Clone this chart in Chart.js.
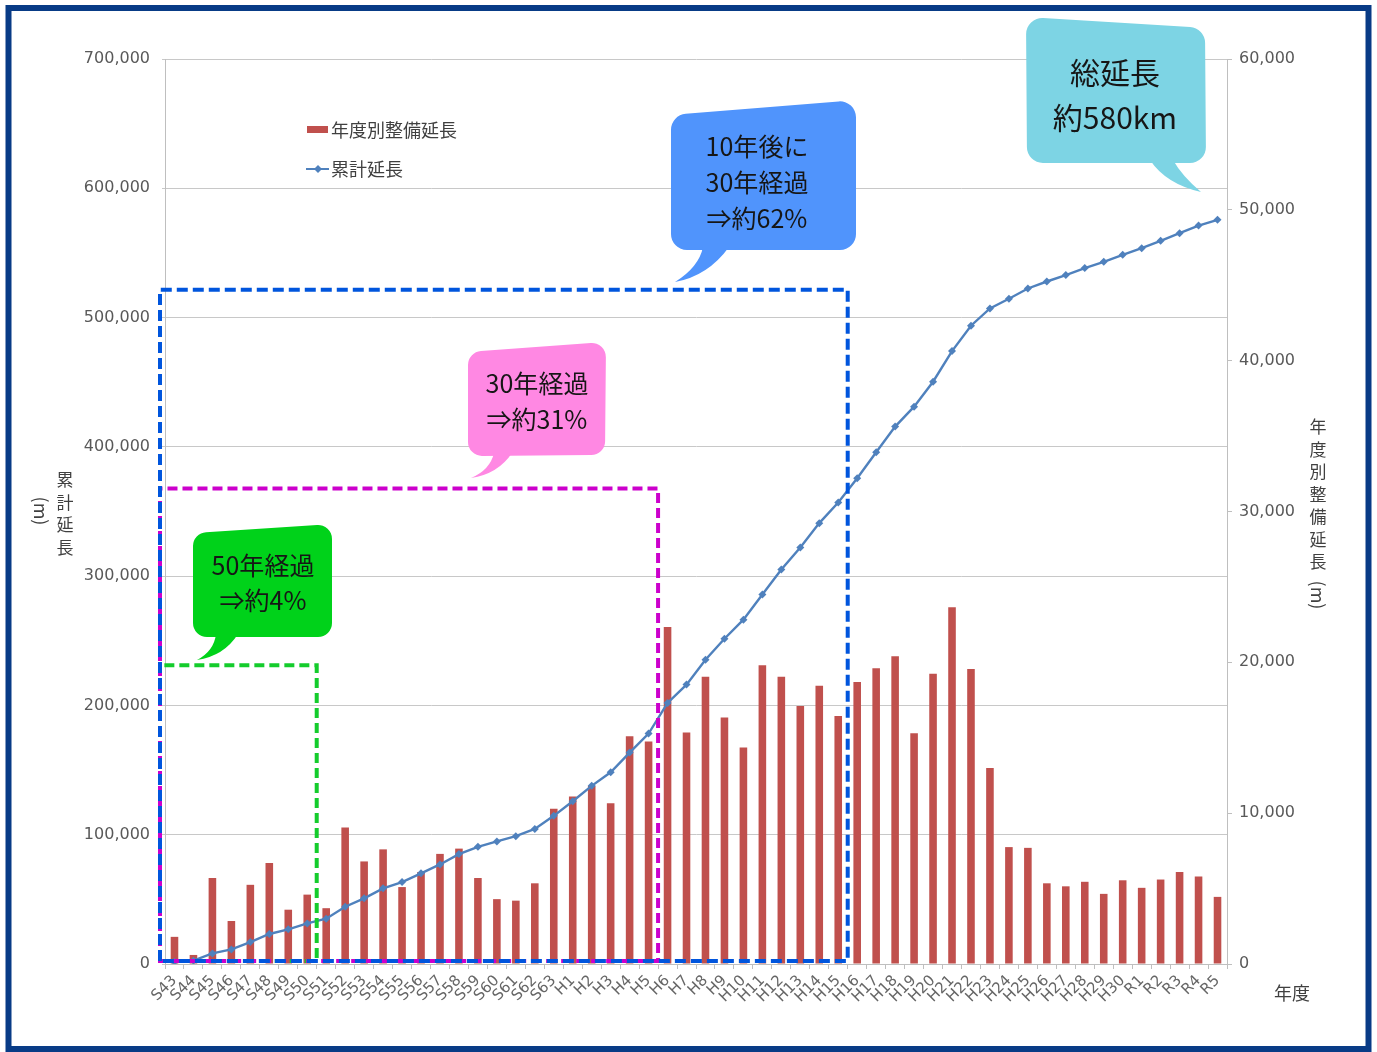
<!DOCTYPE html>
<html lang="ja">
<head>
<meta charset="utf-8">
<title>整備延長の推移</title>
<script src="https://cdn.jsdelivr.net/npm/chart.js@4.4.1/dist/chart.umd.min.js"></script>
<style>
  html, body { margin: 0; padding: 0; background: #fff; }
  #wrap { width: 1377px; height: 1052px; }
</style>
</head>
<body>
<div id="wrap"><canvas id="chart" width="1377" height="1052"></canvas></div>
<script>
// ===== データ =====
const years = [
  "S43","S44","S45","S46","S47","S48","S49","S50","S51","S52","S53","S54","S55","S56","S57","S58","S59","S60","S61","S62","S63",
  "H1","H2","H3","H4","H5","H6","H7","H8","H9","H10","H11","H12","H13","H14","H15","H16","H17","H18","H19","H20",
  "H21","H22","H23","H24","H25","H26","H27","H28","H29","H30",
  "R1","R2","R3","R4","R5"
];

// 年度別整備延長 (m) - 右軸
const annualLength = [
  1800, 600, 5700, 2850, 5250, 6700, 3600, 4600, 3700, 9050, 6800, 7600, 5100, 6100, 7300, 7650, 5700, 4300, 4200, 5350, 10300,
  11100, 11800, 10650, 15100, 14750, 22350, 15350, 19050, 16350, 14350, 19800, 19050, 17100, 18450, 16450, 18700, 19600, 20400, 15300, 19250,
  23650, 19550, 13000, 7750, 7700, 5350, 5150, 5450, 4650, 5550,
  5050, 5600, 6100, 5800, 4450
];

// 累計延長 (m) - 左軸
const cumulativeLength = [
  1800, 2600, 8200, 11300, 17000, 23200, 26800, 31400, 35000, 44300, 50800, 58500, 63400, 70100, 77000, 85000, 90600, 94800, 98900, 104500, 114600,
  125900, 137800, 148300, 163500, 178200, 201900, 216100, 235400, 251600, 266300, 285800, 305200, 322200, 341000, 356900, 375700, 395800, 415700, 431100, 450400,
  474100, 493700, 507100, 514600, 522500, 527900, 532900, 538300, 543100, 548500,
  553700, 559400, 565300, 571200, 575600
];

const leftMax = 700000, leftStep = 100000;
const rightMax = 60000, rightStep = 10000;

// 点線の枠 (最終年度, 上端の累計延長)
const periodBoxes = [
  { lastYear: "S50", top: 231000, color: "#14cc2c", dash: [10, 5] },
  { lastYear: "H5",  top: 367800, color: "#cc00cc", dash: [10, 5] },
  { lastYear: "H15", top: 521500, color: "#0055dd", dash: [11, 5] }
];

// 吹き出し
const bubbles = [
  { fill: "#00d21a", corners: [[193,533],[332,524],[332,637],[193,637]], r: 14,
    tail: [[216,634],[214,651],[197,660],[224,656],[238,634]],
    lines: ["50年経過", "⇒約4%"], size: 25, cx: 263, ys: [565, 600] },
  { fill: "#ff88e3", corners: [[468,352],[606,342],[605,455],[468,456]], r: 14,
    tail: [[494,453],[490,470],[471,478],[498,474],[512,453]],
    lines: ["30年経過", "⇒約31%"], size: 25, cx: 537, ys: [383, 419] },
  { fill: "#5094fc", corners: [[671,115],[856,100],[856,250],[671,250]], r: 16,
    tail: [[703,247],[699,267],[675,282],[708,276],[729,247]],
    lines: ["10年後に", "30年経過", "⇒約62%"], size: 25, cx: 757, ys: [146, 182, 218] },
  { fill: "#7dd4e4", corners: [[1026,17],[1205,28],[1206,163],[1027,163]], r: 16,
    tail: [[1150,160],[1166,184],[1201,192],[1182,176],[1173,160]],
    lines: ["総延長", "約580km"], size: 30, cx: 1115, ys: [73, 118] }
];

const jpFont = '"Noto Sans CJK JP", "Noto Sans", sans-serif';
const barColor = "#c0504d";
const lineColor = "#4f81bd";

// ===== 描画用ヘルパー =====
function roundedPoly(ctx, pts, r) {
  const n = pts.length;
  const mx = (pts[n - 1][0] + pts[0][0]) / 2, my = (pts[n - 1][1] + pts[0][1]) / 2;
  ctx.moveTo(mx, my);
  for (let i = 0; i < n; i++) {
    const a = pts[i], b = pts[(i + 1) % n];
    ctx.arcTo(a[0], a[1], b[0], b[1], r);
  }
  ctx.closePath();
}

function drawBubble(ctx, b) {
  ctx.save();
  ctx.fillStyle = b.fill;
  ctx.beginPath();
  roundedPoly(ctx, b.corners, b.r);
  ctx.fill();
  const t = b.tail;
  ctx.beginPath();
  ctx.moveTo(t[0][0], t[0][1]);
  ctx.quadraticCurveTo(t[1][0], t[1][1], t[2][0], t[2][1]);
  ctx.quadraticCurveTo(t[3][0], t[3][1], t[4][0], t[4][1]);
  ctx.closePath();
  ctx.fill();
  ctx.fillStyle = "#161616";
  ctx.font = b.size + "px " + jpFont;
  ctx.textAlign = "center";
  ctx.textBaseline = "middle";
  b.lines.forEach((s, i) => ctx.fillText(s, b.cx, b.ys[i]));
  ctx.restore();
}

function verticalTitle(ctx, chars, x, y0, gap, unitX, unitY) {
  ctx.save();
  ctx.fillStyle = "#404040";
  ctx.font = "17px " + jpFont;
  ctx.textAlign = "center";
  ctx.textBaseline = "middle";
  chars.split("").forEach((c, i) => ctx.fillText(c, x, y0 + i * gap));
  ctx.translate(unitX, unitY);
  ctx.rotate(Math.PI / 2);
  ctx.font = "18px " + jpFont;
  ctx.fillText("(m)", 0, 0);
  ctx.restore();
}

// ===== 注記プラグイン =====
const annotationPlugin = {
  id: "annotations",
  beforeDraw(chart) {
    const ctx = chart.ctx;
    ctx.save();
    ctx.fillStyle = "#ffffff";
    ctx.fillRect(0, 0, chart.width, chart.height);
    ctx.restore();
  },
  afterDatasetsDraw(chart) {
    const ctx = chart.ctx;
    const xs = chart.scales.x, ys = chart.scales.y;
    const half = (xs.getPixelForValue(1) - xs.getPixelForValue(0)) / 2;
    const left = chart.chartArea.left - 5;
    const bottom = ys.getPixelForValue(0) - 3;

    periodBoxes.forEach(bx => {
      const idx = years.indexOf(bx.lastYear);
      const right = xs.getPixelForValue(idx) + half;
      const top = ys.getPixelForValue(bx.top);
      ctx.save();
      ctx.strokeStyle = bx.color;
      ctx.lineWidth = 4;
      ctx.setLineDash(bx.dash);
      ctx.beginPath();
      ctx.moveTo(left, bottom);
      ctx.lineTo(left, top);
      ctx.lineTo(right, top);
      ctx.lineTo(right, bottom);
      ctx.closePath();
      ctx.stroke();
      ctx.restore();
    });

    bubbles.forEach(b => drawBubble(ctx, b));
  },
  afterDraw(chart) {
    const ctx = chart.ctx;

    // 凡例
    ctx.save();
    ctx.fillStyle = barColor;
    ctx.fillRect(307, 126, 21, 7);
    ctx.strokeStyle = lineColor;
    ctx.lineWidth = 2;
    ctx.beginPath();
    ctx.moveTo(306, 169);
    ctx.lineTo(329, 169);
    ctx.stroke();
    ctx.fillStyle = lineColor;
    ctx.beginPath();
    ctx.moveTo(318, 165); ctx.lineTo(322, 169); ctx.lineTo(318, 173); ctx.lineTo(314, 169);
    ctx.closePath();
    ctx.fill();
    ctx.fillStyle = "#404040";
    ctx.font = "18px " + jpFont;
    ctx.textBaseline = "middle";
    ctx.fillText("年度別整備延長", 331, 130);
    ctx.fillText("累計延長", 331, 169);
    ctx.restore();

    // 軸タイトル
    verticalTitle(ctx, "累計延長", 65, 480, 22.5, 41, 511);
    verticalTitle(ctx, "年度別整備延長", 1318, 427, 22.5, 1318, 595);
    ctx.save();
    ctx.fillStyle = "#404040";
    ctx.font = "18px " + jpFont;
    ctx.textAlign = "center";
    ctx.textBaseline = "middle";
    ctx.fillText("年度", 1292, 993);
    ctx.restore();

    // 外枠
    ctx.save();
    ctx.strokeStyle = "#083b86";
    ctx.lineWidth = 6;
    ctx.strokeRect(8.5, 8, 1360, 1041);
    ctx.restore();
  }
};

// ===== グラフ =====
const tickFont = { family: '"DejaVu Sans", sans-serif', size: 16 };

new Chart(document.getElementById("chart"), {
  type: "bar",
  data: {
    labels: years,
    datasets: [
      {
        type: "line",
        label: "累計延長",
        data: cumulativeLength,
        yAxisID: "y",
        borderColor: lineColor,
        backgroundColor: lineColor,
        borderWidth: 2.4,
        pointStyle: "rectRot",
        pointRadius: 4,
        pointBackgroundColor: lineColor,
        pointBorderWidth: 0,
        tension: 0,
        order: 0
      },
      {
        type: "bar",
        label: "年度別整備延長",
        data: annualLength,
        yAxisID: "y1",
        backgroundColor: barColor,
        barPercentage: 0.4,
        categoryPercentage: 1.0,
        order: 1
      }
    ]
  },
  options: {
    responsive: false,
    animation: false,
    devicePixelRatio: 1,
    layout: { padding: { top: 59, left: 0, right: 0, bottom: 0 } },
    plugins: {
      legend: { display: false },
      title: { display: false },
      tooltip: { enabled: false }
    },
    scales: {
      x: {
        offset: true,
        grid: { display: true, drawOnChartArea: false, offset: true, tickLength: 5, color: "#bfbfbf" },
        border: { color: "#bfbfbf" },
        ticks: { color: "#666", font: { ...tickFont, size: 15 }, autoSkip: false, minRotation: 45, maxRotation: 45, padding: 3 },
        afterFit: s => { s.height = 88; }
      },
      y: {
        position: "left",
        min: 0,
        max: leftMax,
        grid: { color: "#c8c8c8", tickLength: 3 },
        border: { color: "#bfbfbf" },
        ticks: { stepSize: leftStep, color: "#595959", font: tickFont, padding: 12 },
        afterFit: s => { s.width = 165; }
      },
      y1: {
        position: "right",
        min: 0,
        max: rightMax,
        grid: { drawOnChartArea: false, tickLength: 5, color: "#bfbfbf" },
        border: { color: "#bfbfbf" },
        ticks: { stepSize: rightStep, color: "#595959", font: tickFont, padding: 7 },
        afterFit: s => { s.width = 150; }
      }
    }
  },
  plugins: [annotationPlugin]
});
</script>
</body>
</html>
